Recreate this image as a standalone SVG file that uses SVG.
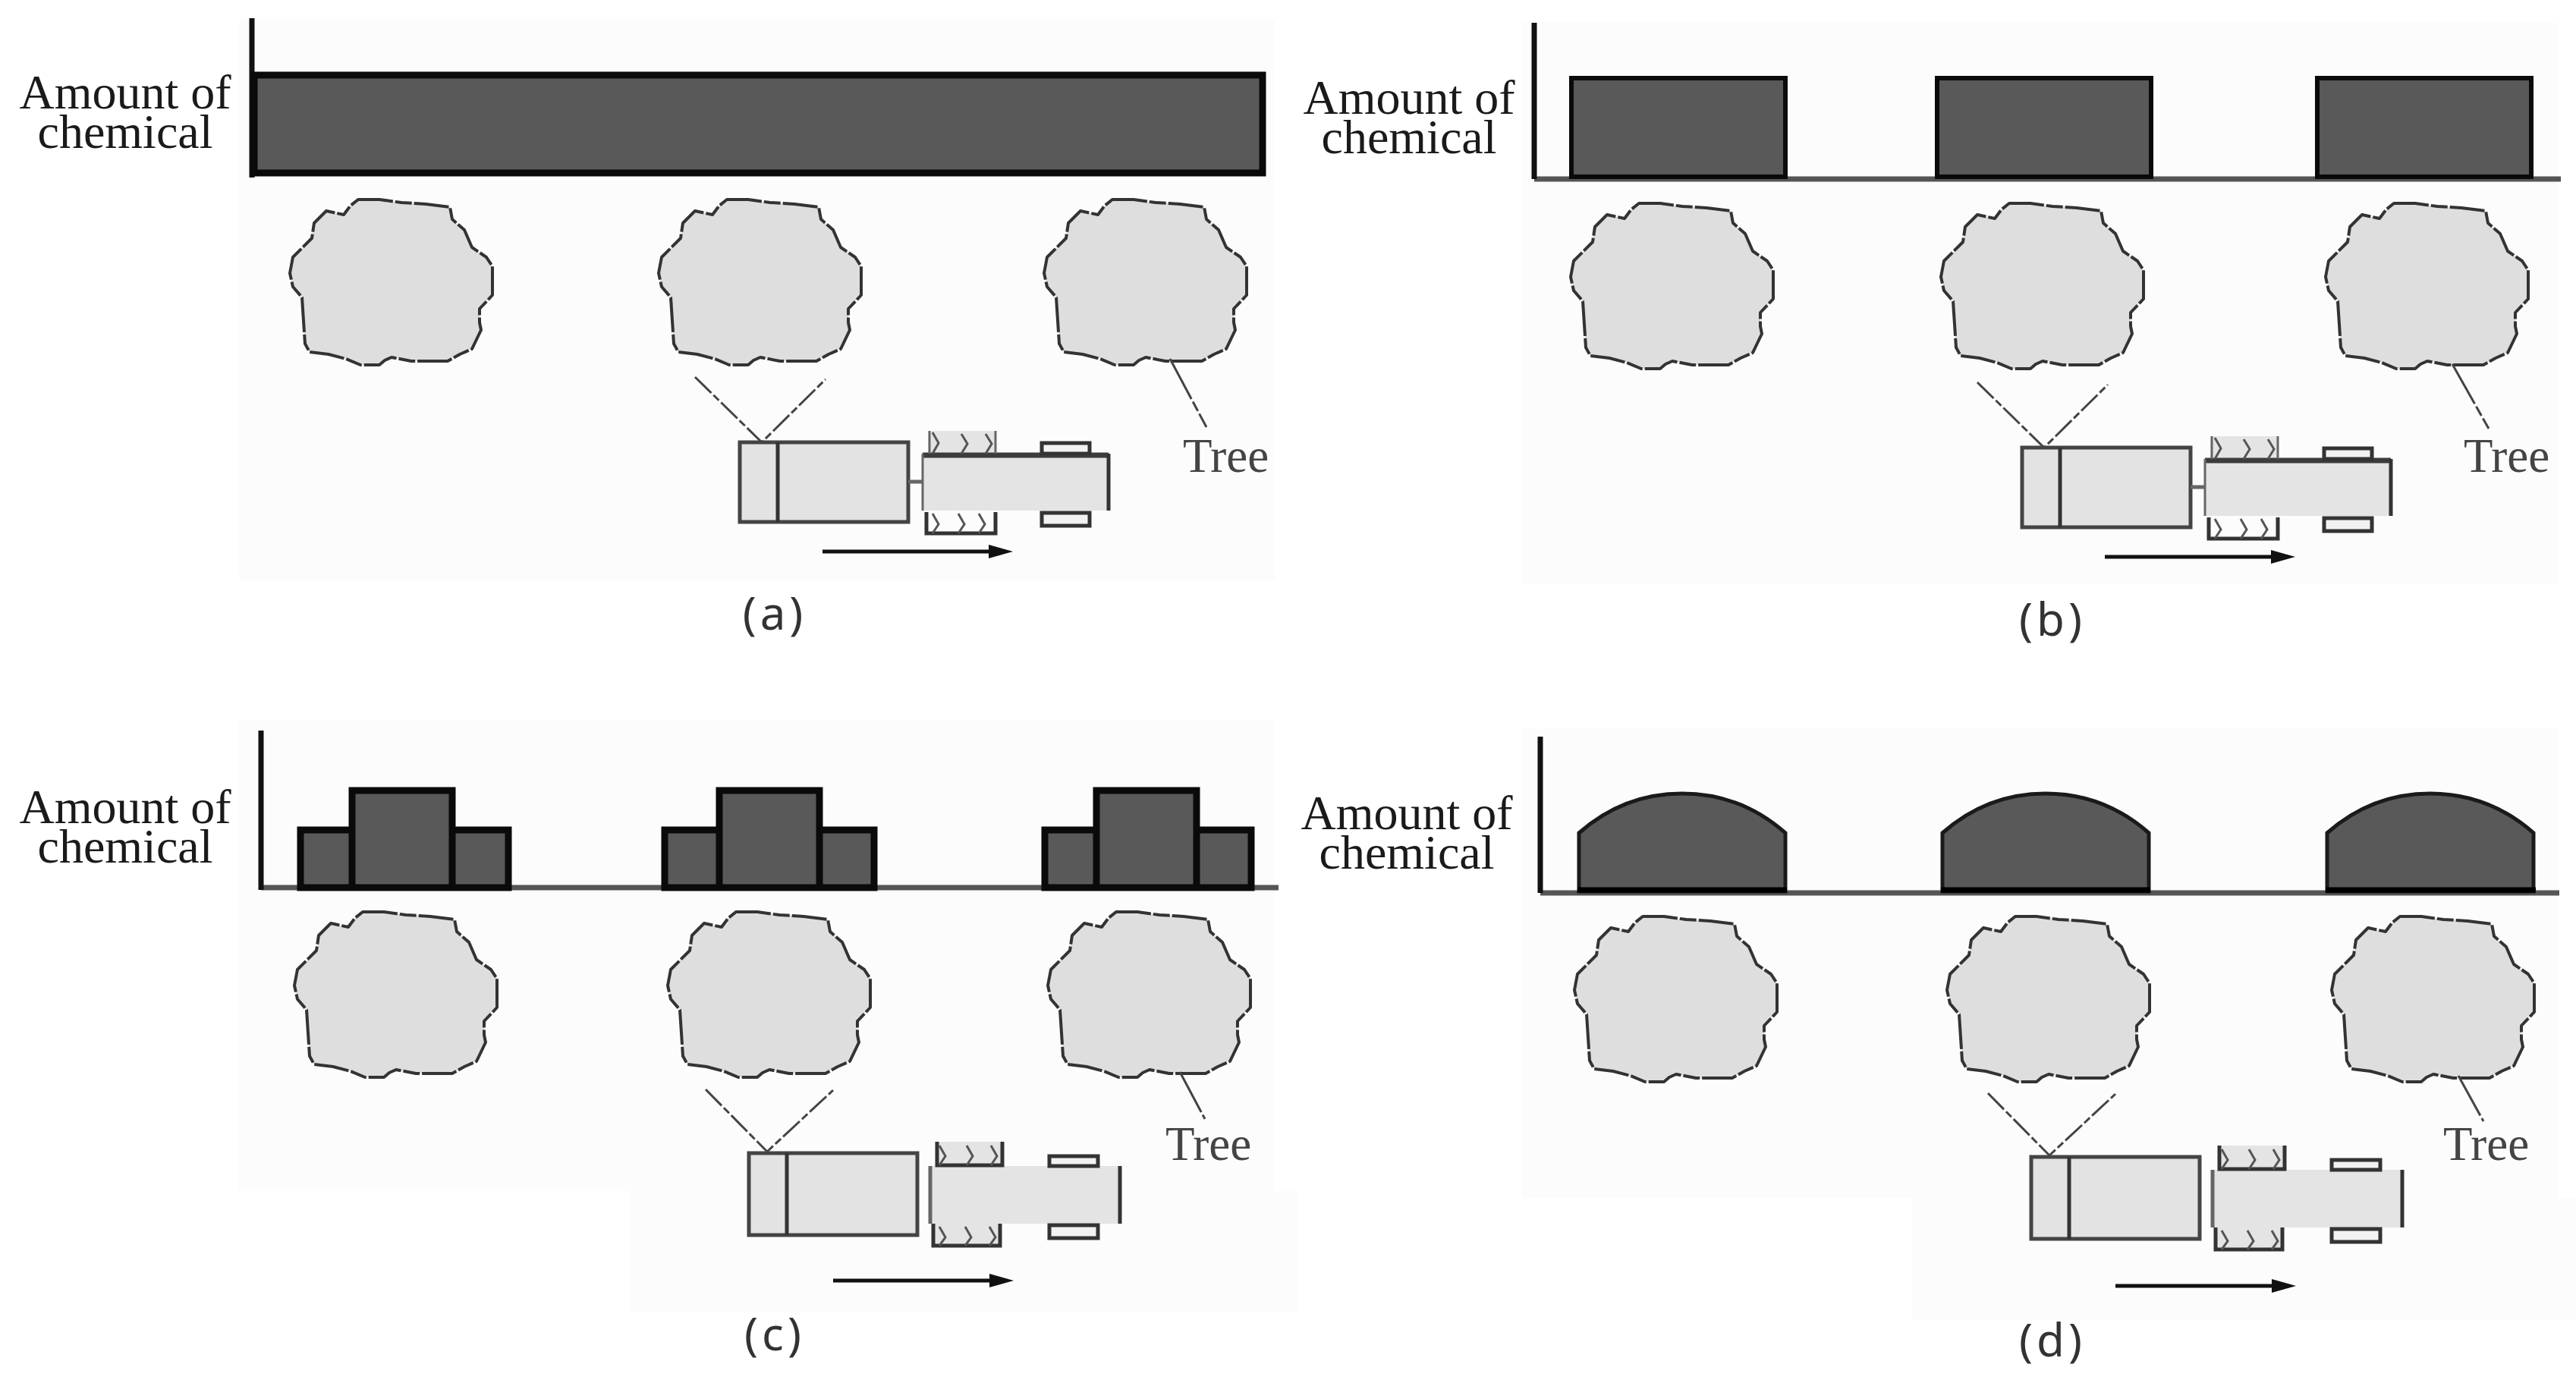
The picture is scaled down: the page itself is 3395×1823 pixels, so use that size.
<svg xmlns="http://www.w3.org/2000/svg" xmlns:xlink="http://www.w3.org/1999/xlink" width="3395" height="1823" viewBox="0 0 3395 1823">
<style>
.paper{fill:#fcfcfc}
.ax{stroke:#111;stroke-width:7;fill:none}
.base{stroke:#555;stroke-width:7;fill:none}
.bar{fill:#595959;stroke:#0a0a0a;stroke-width:6}
.barT{fill:#595959;stroke:#0a0a0a;stroke-width:9}
.dome{fill:#595959;stroke:#1a1a1a;stroke-width:5}
.tree{fill:#dedede;stroke:#333;stroke-width:4;stroke-dasharray:46 3 22 3;stroke-linejoin:round}
.t{font-family:"Liberation Serif","Times New Roman",serif;font-size:64px;fill:#1a1a1a;text-anchor:middle}
.tr{font-family:"Liberation Serif","Times New Roman",serif;font-size:63px;fill:#444;text-anchor:start}
.lab{font-family:"Noto Sans","Open Sans",sans-serif;font-size:60px;fill:#333;text-anchor:middle;letter-spacing:5px}
.body{fill:#e3e3e3;stroke:#444;stroke-width:5}
.fill{fill:#e4e4e4}
.ln{stroke:#333;stroke-width:5;fill:none}
.th{stroke:#3c3c3c;stroke-width:7;fill:none}
.gr{stroke:#666;stroke-width:3;fill:none}
.ch{stroke:#555;stroke-width:3;fill:none}
.wh{fill:#f2f2f2;stroke:#333;stroke-width:5}
.dash{stroke:#444;stroke-width:3;stroke-dasharray:30 4 10 4;fill:none}
.lead{stroke:#444;stroke-width:3;stroke-dasharray:60 4 14 4;fill:none}
.arr{stroke:#111;stroke-width:5;fill:none;marker-end:url(#ah)}
</style>
<defs>
<marker id="ah" markerUnits="userSpaceOnUse" markerWidth="32" markerHeight="18" refX="22" refY="9" orient="auto"><path d="M0,0L32,9L0,18Z" fill="#111"/></marker>
<path id="tp" class="tree" d="M-38,-108L-10,-108L19,-104L51,-102L83,-98L86,-82L102,-68L112,-45L131,-32L139,-20L139,18L122,36L122,54L124,64L112,89L96,96L80,105L32,105L6,100L-3,104L-10,110L-35,110L-54,102L-77,96L-102,93L-108,82L-112,21L-124,7L-128,-11L-124,-32L-99,-57L-96,-77L-80,-93L-57,-88L-48,-100Z"/>
<g id="truck1">
<rect class="body" x="975" y="583" width="222" height="105"/>
<path class="ln" d="M1025,583V688"/>
<path class="gr" d="M1197,635H1216" style="stroke-width:5"/>
<rect class="fill" x="1223" y="568" width="89" height="30"/>
<rect class="fill" x="1216" y="598" width="245" height="75"/>
<path class="th" d="M1216,600H1461"/>
<path class="ln" d="M1461,598V673"/>
<path class="gr" d="M1216,598V673"/>
<path class="gr" d="M1225,568V598M1312,568V598"/>
<path class="ch" d="M1229,570l8,14l-8,14M1267,572l8,13l-8,13M1299,572l8,13l-8,13"/>
<path class="ln" d="M1221,675V703H1312V675"/>
<path class="ch" d="M1229,677l8,14l-8,12M1263,677l8,14l-8,12M1290,677l8,14l-8,12"/>
<rect class="wh" x="1373" y="584" width="63" height="14"/>
<rect class="wh" x="1373" y="676" width="63" height="17"/>
</g>
<g id="truck2">
<rect class="body" x="987" y="1520" width="222" height="108"/>
<path class="ln" d="M1037,1520V1628"/>
<rect class="fill" x="1226" y="1537" width="250" height="76"/>
<path class="gr" d="M1226,1537V1613" style="stroke-width:5"/>
<path class="ln" d="M1476,1537V1613"/>
<rect class="fill" x="1233" y="1505" width="88" height="32"/>
<path class="ln" d="M1235,1505V1536H1321V1505"/>
<rect class="fill" x="1230" y="1613" width="88" height="30"/>
<path class="ln" d="M1230,1613V1642H1318V1613"/>
<path class="ch" d="M1238,1510l8,14l-8,12M1274,1510l8,14l-8,12M1306,1510l8,14l-8,12M1238,1617l8,14l-8,11M1272,1617l8,14l-8,11M1304,1617l8,14l-8,11"/>
<rect class="wh" x="1383" y="1524" width="64" height="13"/>
<rect class="wh" x="1383" y="1615" width="64" height="17"/>
</g>
</defs>
<rect width="3395" height="1823" fill="#fff"/>
<g id="background">
<rect class="paper" x="315" y="25" width="1365" height="515"/><rect class="paper" x="315" y="540" width="1365" height="225"/>
<rect class="paper" x="2005" y="30" width="1365" height="520"/><rect class="paper" x="2005" y="550" width="1365" height="220"/>
<rect class="paper" x="315" y="950" width="1365" height="620"/><rect class="paper" x="830" y="1570" width="880" height="160"/>
<rect class="paper" x="2005" y="960" width="1365" height="620"/><rect class="paper" x="2520" y="1580" width="880" height="160"/>
</g>
<g id="panel-a">
<g id="chart-a"><path class="ax" d="M332,24V234"/><rect class="barT" x="335" y="99" width="1329" height="129" style="stroke-width:9"/></g>
<text class="t" x="165" y="143">Amount of</text><text class="t" x="165" y="195">chemical</text>
<g id="trees-a"><use xlink:href="#tp" href="#tp" x="510" y="371"/><use xlink:href="#tp" href="#tp" x="996" y="371"/><use xlink:href="#tp" href="#tp" x="1504" y="371"/></g>
<g id="truck-a"><use xlink:href="#truck1" href="#truck1"/></g>
<text class="tr" x="1559" y="622">Tree</text>
<text class="lab" x="1021" y="830">(a)</text>
</g>
<g id="panel-b">
<g id="chart-b"><path class="base" d="M2022,236H3375"/><path class="ax" d="M2022,30V236"/>
<rect class="bar" x="2071" y="103" width="282" height="130"/><rect class="bar" x="2553" y="103" width="282" height="130"/><rect class="bar" x="3054" y="103" width="282" height="130"/></g>
<text class="t" x="1857" y="150">Amount of</text><text class="t" x="1857" y="202">chemical</text>
<g id="trees-b"><use xlink:href="#tp" href="#tp" x="2198" y="376"/><use xlink:href="#tp" href="#tp" x="2686" y="376"/><use xlink:href="#tp" href="#tp" x="3193" y="376"/></g>
<g id="truck-b"><use xlink:href="#truck1" href="#truck1" x="1690" y="7"/></g>
<text class="tr" x="3247" y="622">Tree</text>
<text class="lab" x="2705" y="838">(b)</text>
</g>
<g id="panel-c">
<g id="chart-c"><path class="base" d="M344,1170H1685"/><path class="ax" d="M344,963V1173"/>
<path class="barT" d="M396,1170V1094H464V1170ZM596,1170V1094H670V1170ZM464,1170V1042H596V1170Z"/>
<path class="barT" d="M876,1170V1094H948V1170ZM1080,1170V1094H1152V1170ZM948,1170V1042H1080V1170Z"/>
<path class="barT" d="M1377,1170V1094H1445V1170ZM1577,1170V1094H1649V1170ZM1445,1170V1042H1577V1170Z"/></g>
<text class="t" x="165" y="1085">Amount of</text><text class="t" x="165" y="1137">chemical</text>
<g id="trees-c"><use xlink:href="#tp" href="#tp" x="516" y="1310"/><use xlink:href="#tp" href="#tp" x="1008" y="1310"/><use xlink:href="#tp" href="#tp" x="1509" y="1310"/></g>
<g id="truck-c"><use xlink:href="#truck2" href="#truck2"/></g>
<text class="tr" x="1536" y="1529">Tree</text>
<text class="lab" x="1021" y="1780">(c)</text>
</g>
<g id="panel-d">
<g id="chart-d"><path class="base" d="M2030,1177H3373"/><path class="ax" d="M2030,971V1177"/>
<path class="dome" d="M2081,1175V1098Q2140,1046 2217,1046T2353,1098V1175Z"/>
<path class="dome" d="M2560,1175V1098Q2619,1046 2696,1046T2832,1098V1175Z"/>
<path class="dome" d="M3067,1175V1098Q3126,1046 3203,1046T3339,1098V1175Z"/>
<path d="M2079,1173H2355M2558,1173H2834M3065,1173H3342" stroke="#000" stroke-width="7"/></g>
<text class="t" x="1854" y="1093">Amount of</text><text class="t" x="1854" y="1145">chemical</text>
<g id="trees-d"><use xlink:href="#tp" href="#tp" x="2203" y="1316"/><use xlink:href="#tp" href="#tp" x="2694" y="1316"/><use xlink:href="#tp" href="#tp" x="3201" y="1316"/></g>
<g id="truck-d"><use xlink:href="#truck2" href="#truck2" x="1690" y="5"/></g>
<text class="tr" x="3220" y="1529">Tree</text>
<text class="lab" x="2705" y="1788">(d)</text>
</g>
<g id="connectors">
<path class="dash" d="M916,497L1004,583L1088,500"/>
<path class="lead" d="M1542,473L1590,563"/>
<path class="arr" d="M1084,727H1325"/>
<path class="dash" d="M2606,504L2694,590L2778,507"/>
<path class="lead" d="M3232,480L3280,565"/>
<path class="arr" d="M2774,734H3015"/>
<path class="dash" d="M930,1436L1011,1518L1098,1437"/>
<path class="lead" d="M1555,1413L1588,1475"/>
<path class="arr" d="M1098,1688H1326"/>
<path class="dash" d="M2620,1441L2701,1523L2788,1442"/>
<path class="lead" d="M3240,1418L3273,1478"/>
<path class="arr" d="M2788,1695H3016"/>
</g>
</svg>
